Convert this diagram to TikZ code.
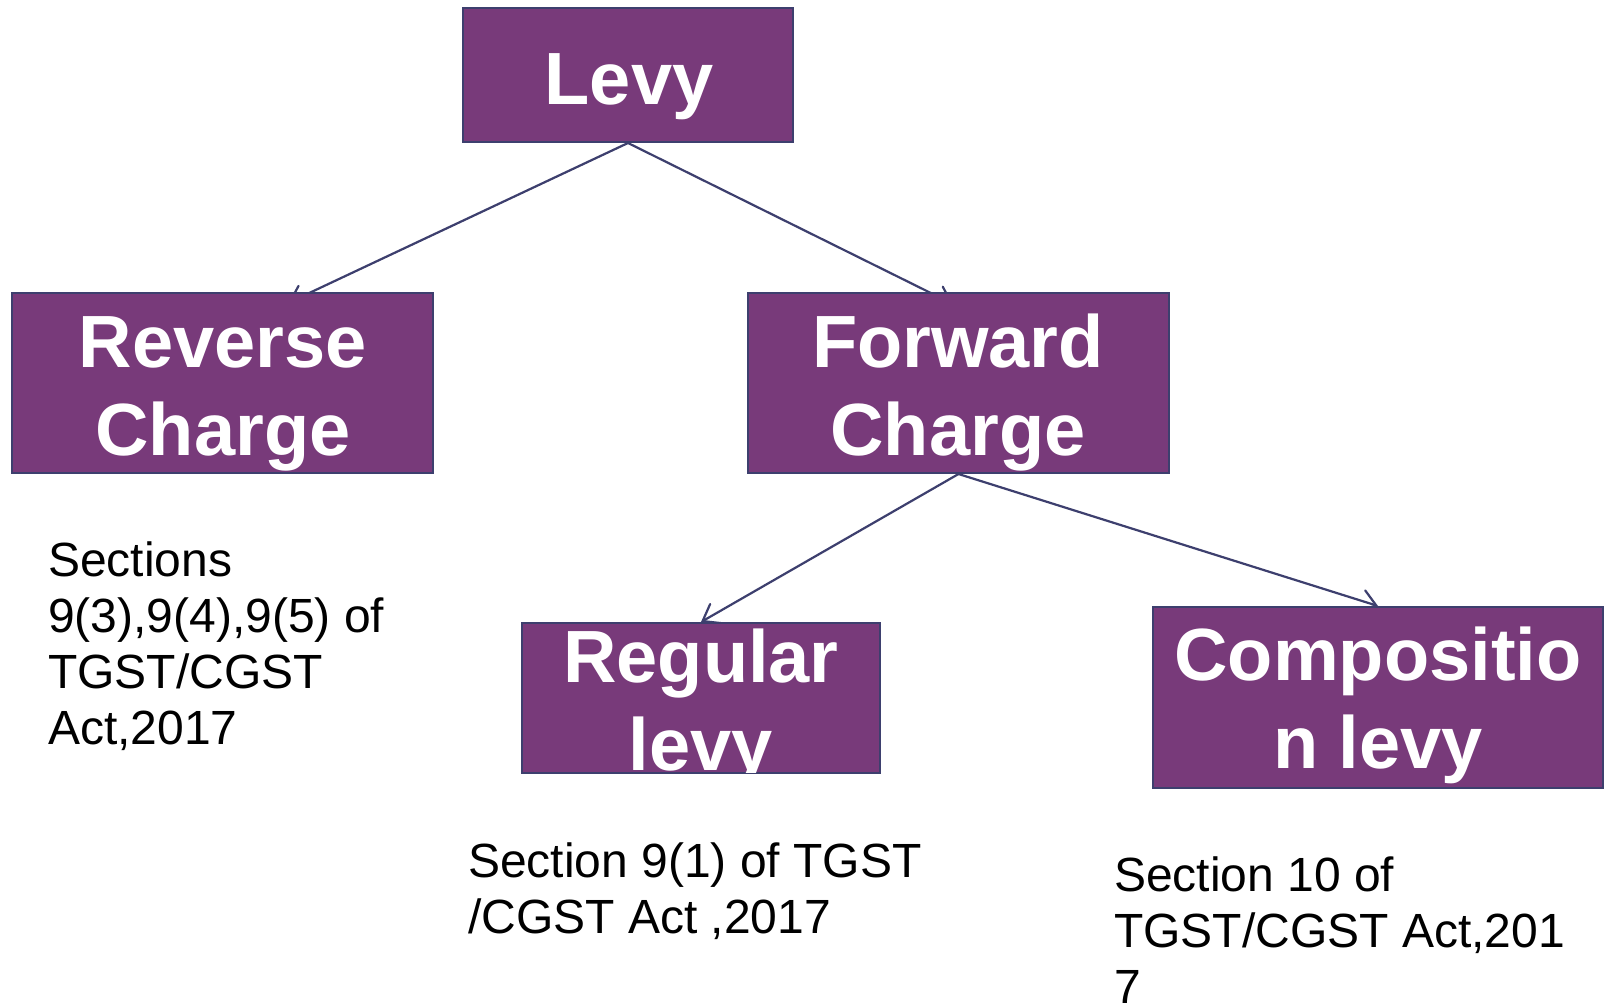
\documentclass[tikz,border=0pt]{standalone}
\usepackage{fontspec}
\setmainfont{Liberation Sans}
\usetikzlibrary{arrows.meta,backgrounds}
\definecolor{plum}{HTML}{783A7A}
\definecolor{navy}{HTML}{3D3F6E}

\begin{document}
\begin{tikzpicture}[x=1pt,y=-1pt,
  box/.style={draw=navy, line width=2pt, fill=plum, inner sep=0pt},
  boxtext/.style={text=white, font=\fontsize{74}{88}\selectfont\bfseries,
    align=center, inner sep=0pt, anchor=base},
  note/.style={font=\fontsize{48}{56}\selectfont, align=left,
    inner sep=0pt, anchor=base west},
  link/.style={draw=navy, line width=2.2pt, line cap=round, line join=round,
    -{Straight Barb[length=15pt,width=22pt,line cap=round]}}]

  \useasboundingbox (0,0) rectangle (1606,1007);

  % boxes
  \node[box, minimum width=330pt, minimum height=134pt] (levy) at (628,75) {};
  \node[box, minimum width=421pt, minimum height=180pt] (reverse) at (222.5,383) {};
  \node[box, minimum width=421pt, minimum height=180pt] (forward) at (958.5,383) {};
  \node[box, minimum width=358pt, minimum height=150pt] (regular) at (701,698) {};
  \node[box, minimum width=450pt, minimum height=181pt] (compo) at (1378,697.5) {};

  % box captions (anchored at the baseline of their last line)
  \node[boxtext] (levyT) at (629,104) {Levy};
  \node[boxtext] (reverseT) at (223,455) {Reverse\\Charge};
  \node[boxtext] (forwardT) at (958,455) {Forward\\Charge};
  \begin{scope}
    \clip ([yshift=1.5pt]regular.south west) rectangle (regular.north east);
    \node[boxtext] (regularT) at (701,770) {Regular\\levy};
  \end{scope}
  \node[boxtext] (compoT) at (1378,768) {Compositio\\n levy};

  % hidden tips of the upper links
  \coordinate (revTip) at (288,303);
  \coordinate (fwdTip) at (953,304);

  % page and connectors, behind the boxes
  \begin{scope}[on background layer]
    \fill[white] (0,0) rectangle (1606,1007);
    \draw[link] (levy.south) -- (revTip);
    \draw[link] (levy.south) -- (fwdTip);
    \draw[link] (forward.south) -- (regular.north);
    \draw[link] (forward.south) -- (compo.north);
  \end{scope}

  % section references (anchored at the baseline of their last line)
  \node[note] (revNote) at (48,744) {Sections\\9(3),9(4),9(5) of\\TGST/CGST\\Act,2017};
  \node[note] (regNote) at (468,933) {Section 9(1) of TGST\\/CGST Act ,2017};
  \node[note] (compoNote) at (1114,1003) {Section 10 of\\TGST/CGST Act,201\\7};
\end{tikzpicture}
\end{document}
